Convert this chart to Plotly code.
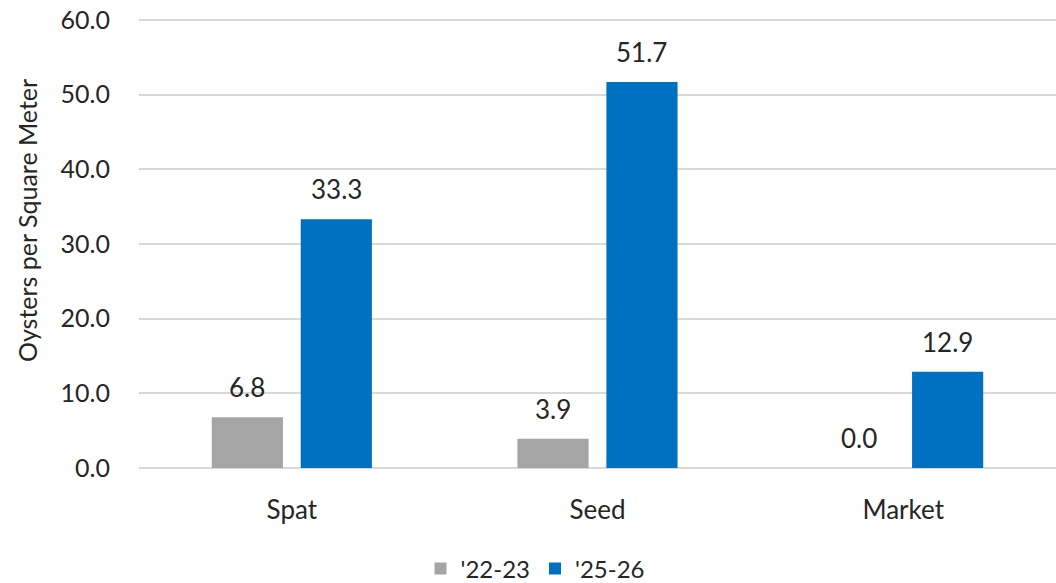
import plotly.graph_objects as go

categories = ["Spat", "Seed", "Market"]
series_names = ["'22-23", "'25-26"]
values_2223 = [6.8, 3.9, 0.0]
values_2526 = [33.3, 51.7, 12.9]
tick_vals = [0, 10, 20, 30, 40, 50, 60]
tick_text = ["0.0", "10.0", "20.0", "30.0", "40.0", "50.0", "60.0"]

colors = ["#a5a5a5", "#0070c0"]
font_family = "Lato, 'Open Sans', sans-serif"
text_color = "#262626"

W, H = 1056, 583
Y_MIN, Y_MAX = -0.27, 60.27   # small pad so edge gridlines are drawn
ML, MR, MT = 139, 0, 18
PLOT_H = 452
MB = H - MT - PLOT_H
BARGAP, GROUPGAP = 0.418, 0.2

fig = go.Figure()
for name, vals, col in zip(series_names, [values_2223, values_2526], colors):
    fig.add_trace(go.Bar(
        x=categories, y=vals, name=name,
        marker=dict(color=col, line=dict(width=0)),
    ))

# data labels as annotations above each bar
plot_w = W - ML - MR
cat_w = plot_w / len(categories)
slot = cat_w * (1 - BARGAP) / 2
for k, vals in enumerate([values_2223, values_2526]):
    shift = (k - 0.5) * slot
    for c, v in zip(categories, vals):
        fig.add_annotation(
            x=c, y=v, xref="x", yref="y", text=f"{v:.1f}",
            showarrow=False, xshift=shift, yanchor="bottom", yshift=12,
            font=dict(size=26, color=text_color, family=font_family),
        )

# y-axis title (x≈27, y≈221)
fig.add_annotation(
    x=(27 - ML) / plot_w, y=(MT + PLOT_H - 221) / PLOT_H,
    xref="paper", yref="paper",
    text="Oysters per Square Meter", textangle=-90, showarrow=False,
    xanchor="center", yanchor="middle",
    font=dict(size=25, color=text_color, family=font_family),
)

fig.update_layout(
    width=W, height=H,
    margin=dict(l=ML, r=MR, t=MT, b=MB),
    paper_bgcolor="white", plot_bgcolor="white",
    barmode="group", bargap=BARGAP, bargroupgap=GROUPGAP,
    font=dict(family=font_family, color=text_color, size=25),
    showlegend=True,
    legend=dict(orientation="h", x=535 / W, xref="container", xanchor="center",
                y=(H - 569) / H, yref="container", yanchor="middle",
                font=dict(size=24), traceorder="normal"),
)
fig.update_yaxes(
    range=[Y_MIN, Y_MAX], tickvals=tick_vals, ticktext=tick_text,
    showgrid=True, gridcolor="#d9d9d9", gridwidth=1.5,
    zeroline=True, zerolinecolor="#d9d9d9", zerolinewidth=1.5,
    showline=False, ticks="", ticklabelstandoff=28, automargin=False,
    ticklabeloverflow="allow",
    tickfont=dict(size=25),
)
fig.update_xaxes(
    showline=False, ticks="", tickfont=dict(size=26), automargin=False,
    ticklabelstandoff=22,
)

fig.write_html(
    "out.html",
    config={"displayModeBar": False},
    post_script="document.body.style.margin='0';document.body.style.overflow='hidden';",
)
